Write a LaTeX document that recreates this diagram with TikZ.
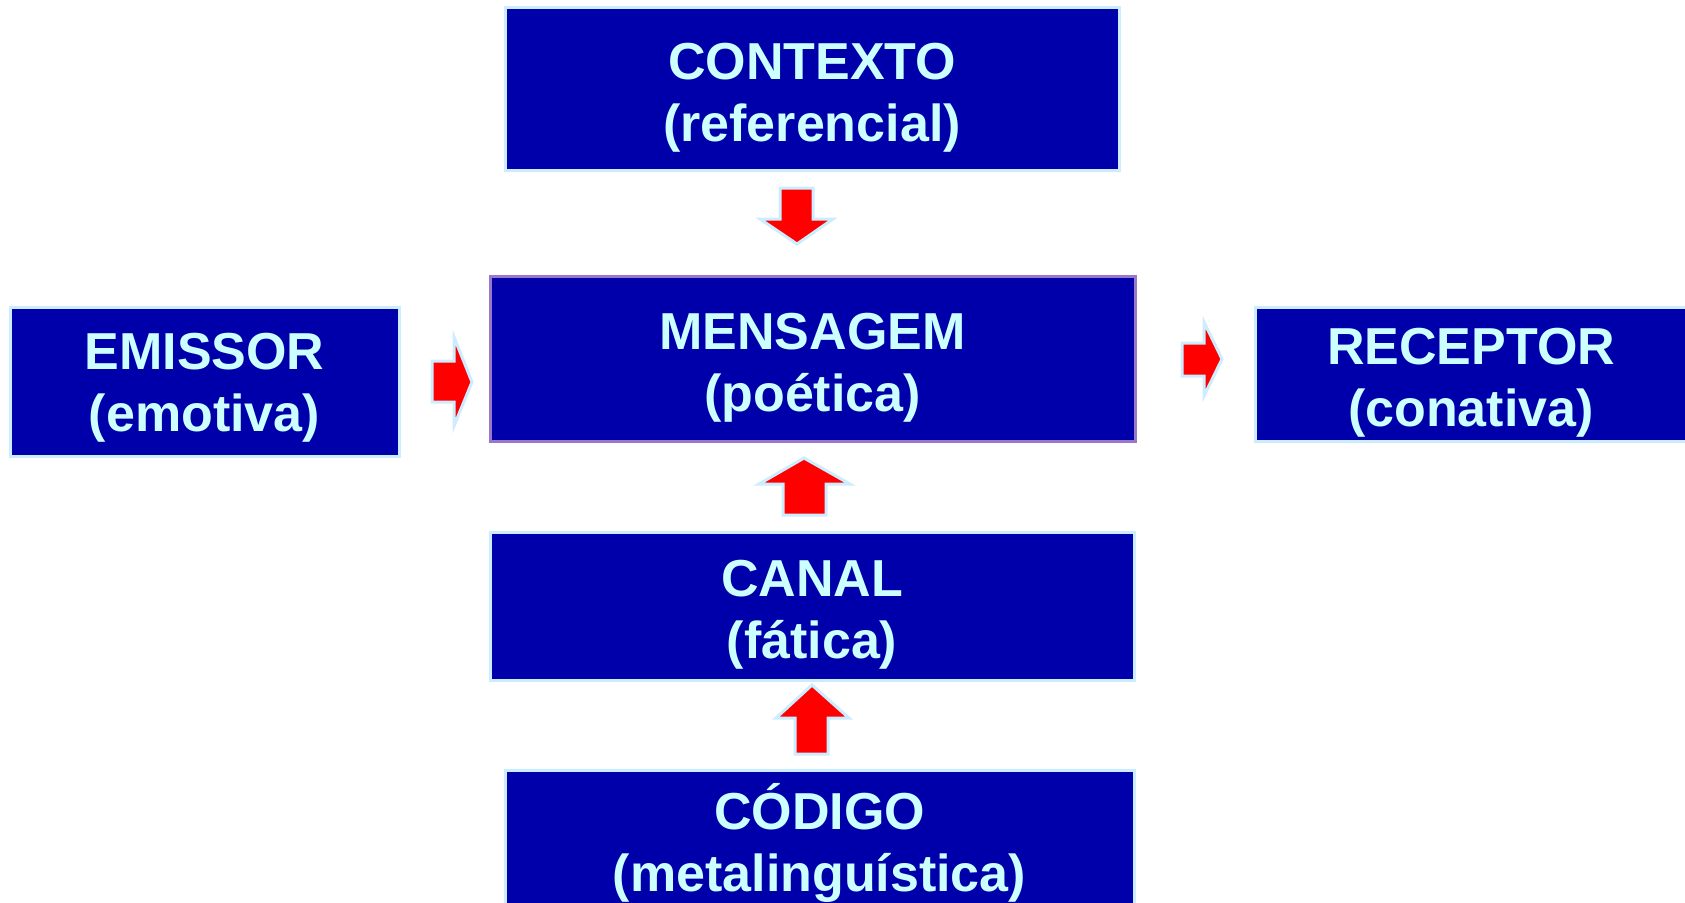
\documentclass[tikz,border=0pt]{standalone}
\usepackage{fontspec}
\setmainfont{Liberation Sans}
\definecolor{azul}{RGB}{0,0,170}
\definecolor{ciano}{RGB}{204,255,255}
\definecolor{borda}{RGB}{204,236,255}
\definecolor{lilas}{RGB}{153,119,204}
\definecolor{vermelho}{RGB}{255,0,0}
\begin{document}
\begin{tikzpicture}[x=0.5pt, y=-0.5pt,
    caixa/.style={draw=borda, line width=1.5pt, fill=azul, text=ciano,
        font=\fontsize{26}{31}\selectfont\bfseries, align=center, inner sep=0pt,
        text height=58pt},
    seta/.style={fill=vermelho, draw=borda, line width=1.5pt, line join=miter}]
    \useasboundingbox (0,0) rectangle (1685,902);
    % caixas
    \node[caixa, minimum width=307pt, minimum height=81.5pt] (contexto) at (812,89) {CONTEXTO\\(referencial)};
    \node[caixa, text height=55pt, minimum width=194.5pt, minimum height=74.5pt] (emissor) at (204.5,381.5) {EMISSOR\\(emotiva)};
    \node[caixa, draw=lilas, minimum width=322.5pt, minimum height=82.5pt] (mensagem) at (812.5,358.5) {MENSAGEM\\(poética)};
    \node[caixa, minimum width=216pt, minimum height=67pt] (receptor) at (1471,374) {RECEPTOR\\(conativa)};
    \node[caixa, minimum width=322pt, minimum height=74pt] (canal) at (812,606) {CANAL\\(fática)};
    \node[caixa, text height=52.5pt, minimum width=314.5pt, minimum height=74pt] (codigo) at (819.5,844) {CÓDIGO\\(metalinguística)};
    % setas
    \draw[seta] (780,188) -- (813,188) -- (813,219) -- (833,219) -- (797,244) -- (760,219) -- (780,219) -- cycle;
    \draw[seta] (432,361) -- (454,361) -- (454,337) -- (472,382) -- (454,426) -- (454,402) -- (432,402) -- cycle;
    \draw[seta] (1182,343) -- (1204,343) -- (1204,322) -- (1222,359) -- (1204,396) -- (1204,376) -- (1182,376) -- cycle;
    \draw[seta] (783,515) -- (783,484) -- (759,484) -- (804,458) -- (850,484) -- (826,484) -- (826,515) -- cycle;
    \draw[seta] (795,754) -- (795,718) -- (776,718) -- (812,685) -- (849,718) -- (828,718) -- (828,754) -- cycle;
\end{tikzpicture}
\end{document}
